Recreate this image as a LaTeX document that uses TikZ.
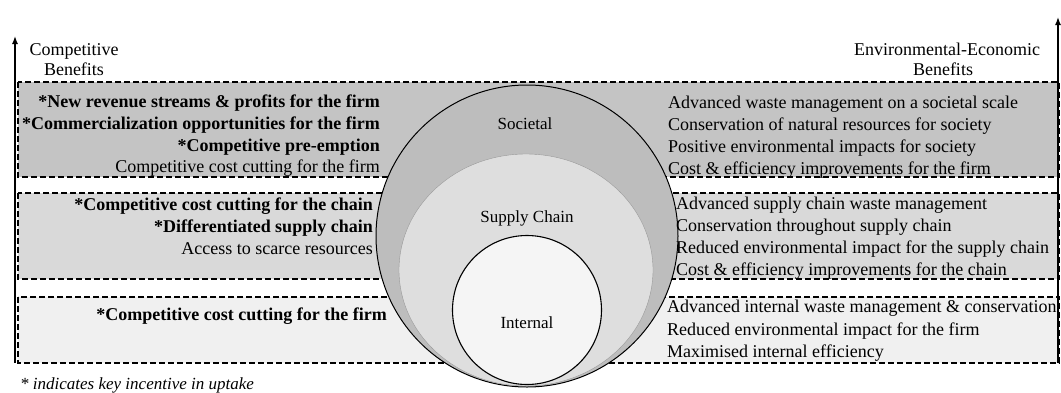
\documentclass[tikz,border=0pt]{standalone}
\usepackage{fontspec}
\setmainfont{Liberation Serif}
\usetikzlibrary{arrows.meta}

\definecolor{socband}{gray}{0.77}
\definecolor{chainband}{gray}{0.85}
\definecolor{firmband}{gray}{0.94}
\definecolor{socfill}{gray}{0.74}
\definecolor{chainfill}{gray}{0.87}
\definecolor{firmfill}{gray}{0.96}

\begin{document}
\begin{tikzpicture}[
       x=1pt, y=-1pt,
       band/.style={draw=black, dash pattern=on 6pt off 3pt, line width=1.1pt},
       txt/.style={font=\fontsize{18}{22}\selectfont, inner sep=0pt},
       lefttxt/.style={txt, anchor=base east},
       righttxt/.style={txt, anchor=base west},
       level/.style={font=\fontsize{17}{20}\selectfont, inner sep=0pt, anchor=base},
       axis/.style={line width=1.4pt, -{Latex[length=8pt, width=6pt]}}
   ]
   \useasboundingbox (0,0) rectangle (1061,392);

   \draw[band, fill=socband] (18,82) rectangle (1059,177);
   \draw[band, fill=chainband] (18,193) rectangle (1059,279);
   \draw[band, fill=firmband] (18,297) rectangle (1059,363);

   \draw[fill=socfill, line width=1pt] (527,236) circle (151);
   \draw[fill=chainfill, draw=gray!80] (526,270) ellipse (127 and 116);
   \draw[fill=firmfill, line width=1.1pt] (527,310) circle (74.5);

   \node[level] (societal) at (525,129) {Societal};
   \node[level] (chain) at (527,222) {Supply Chain};
   \node[level] (internal) at (527,328) {Internal};

   \coordinate (cb-foot) at (15,363);
   \coordinate (cb-top) at (15,36);
   \coordinate (eb-foot) at (1058,363);
   \coordinate (eb-top) at (1058,17);
   \draw[axis] (cb-foot) -- (cb-top);
   \draw[axis] (eb-foot) -- (eb-top);

   \node[txt, anchor=base] (cb1) at (74,55) {Competitive};
   \node[txt, anchor=base] (cb2) at (74,75) {Benefits};
   \node[txt, anchor=base] (eb1) at (947,55) {Environmental-Economic};
   \node[txt, anchor=base] (eb2) at (943,75) {Benefits};

   \foreach \y/\txt [count=\i] in {
       107/{\bfseries *New revenue streams \& profits for the firm},
       129/{\bfseries *Commercialization opportunities for the firm},
       151/{\bfseries *Competitive pre-emption},
       172/{Competitive cost cutting for the firm}} {
       \node[lefttxt] (soc-l\i) at (380,\y) {\txt};
   }

   \foreach \y/\txt [count=\i] in {
       108/{Advanced waste management on a societal scale},
       130/{Conservation of natural resources for society},
       152/{Positive environmental impacts for society},
       174/{Cost \& efficiency improvements for the firm}} {
       \node[righttxt] (soc-r\i) at (668,\y) {\txt};
   }

   \foreach \y/\txt [count=\i] in {
       210/{\bfseries *Competitive cost cutting for the chain},
       232/{\bfseries *Differentiated supply chain},
       254/{Access to scarce resources}} {
       \node[lefttxt] (chain-l\i) at (373,\y) {\txt};
   }

   \foreach \y/\txt [count=\i] in {
       209/{Advanced supply chain waste management},
       231/{Conservation throughout supply chain},
       253/{Reduced environmental impact for the supply chain},
       275/{Cost \& efficiency improvements for the chain}} {
       \node[righttxt] (chain-r\i) at (676,\y) {\txt};
   }

   \node[lefttxt] (firm-l1) at (387,320) {\bfseries *Competitive cost cutting for the firm};

   \foreach \y/\txt [count=\i] in {
       312/{Advanced internal waste management \& conservation},
       335/{Reduced environmental impact for the firm},
       357/{Maximised internal efficiency}} {
       \node[righttxt] (firm-r\i) at (667,\y) {\txt};
   }

   \node[txt, anchor=base west, font=\fontsize{17}{20}\selectfont\itshape] (note) at (20,389) {* indicates key incentive in uptake};
\end{tikzpicture}
\end{document}
